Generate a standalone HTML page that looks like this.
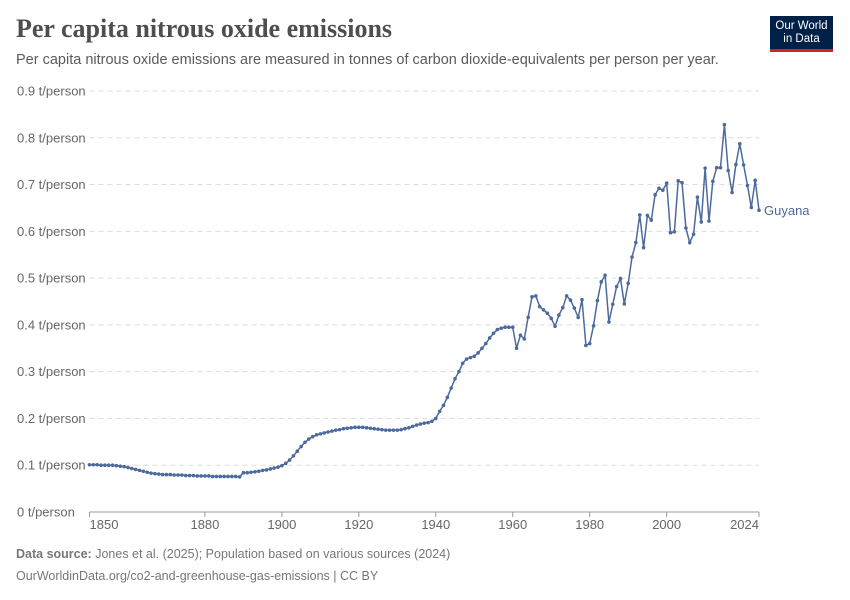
<!DOCTYPE html>
<html><head><meta charset="utf-8">
<style>
body{margin:0;background:#fff;font-family:"Liberation Sans",sans-serif;}
#wrap{position:relative;width:850px;height:600px;overflow:hidden;}
.title{position:absolute;left:16px;top:14px;font-family:"Liberation Serif",serif;font-weight:bold;font-size:26px;color:#4e4e4e;}
.sub{position:absolute;left:16px;top:52px;font-size:14.5px;color:#5b5b5b;}
.logo{position:absolute;left:770px;top:16px;width:63px;height:36px;background:#002147;color:#fff;font-size:11.5px;line-height:13px;text-align:center;padding-top:4px;box-sizing:border-box;border-bottom:3px solid #ce261e;}
.foot{position:absolute;left:16px;font-size:12.5px;color:#777;}
</style></head><body>
<div id="wrap">
<div class="title">Per capita nitrous oxide emissions</div>
<div class="sub">Per capita nitrous oxide emissions are measured in tonnes of carbon dioxide-equivalents per person per year.</div>
<div class="logo">Our World<br>in Data</div>
<svg id="chart" width="850" height="600" style="position:absolute;left:0;top:0"></svg>
<div class="foot" style="top:547px"><b>Data source:</b> Jones et al. (2025); Population based on various sources (2024)</div>
<div class="foot" style="top:569px">OurWorldinData.org/co2-and-greenhouse-gas-emissions | CC BY</div>
</div>
<script>
const years = [];
for (let y = 1850; y <= 2024; y++) years.push(y);
const values = [
0.101,0.101,0.101,0.100,0.100,0.100,0.100,0.099,0.098,0.097,
0.095,0.093,0.091,0.089,0.087,0.085,0.083,0.082,0.081,0.080,
0.080,0.080,0.079,0.079,0.079,0.078,0.078,0.078,0.077,0.077,
0.077,0.077,0.076,0.076,0.076,0.076,0.076,0.076,0.076,0.075,
0.084,0.084,0.085,0.086,0.087,0.089,0.090,0.092,0.094,0.096,
0.099,0.104,0.111,0.120,0.130,0.140,0.149,0.156,0.161,0.165,
0.167,0.169,0.171,0.173,0.175,0.176,0.178,0.179,0.180,0.181,
0.181,0.181,0.180,0.179,0.178,0.177,0.176,0.175,0.175,0.175,
0.175,0.176,0.178,0.180,0.183,0.186,0.188,0.190,0.191,0.194,
0.200,0.215,0.228,0.245,0.265,0.285,0.300,0.318,0.327,0.330,
0.333,0.340,0.350,0.360,0.372,0.382,0.390,0.393,0.395,0.395,
0.395,0.350,0.378,0.370,0.416,0.460,0.462,0.439,0.432,0.425,0.414,
0.397,0.421,0.437,0.462,0.453,0.436,0.416,0.454,0.356,0.360,
0.398,0.452,0.492,0.506,0.406,0.444,0.482,0.499,0.445,0.489,
0.545,0.576,0.635,0.565,0.634,0.624,0.678,0.692,0.688,0.703,
0.597,0.599,0.708,0.704,0.607,0.576,0.594,0.673,0.620,0.735,
0.622,0.707,0.736,0.736,0.828,0.730,0.683,0.743,0.787,0.742,
0.698,0.651,0.709,0.645
];
const yTicks = [0,0.1,0.2,0.3,0.4,0.5,0.6,0.7,0.8,0.9];
const yTickLabels = ["0 t/person","0.1 t/person","0.2 t/person","0.3 t/person","0.4 t/person","0.5 t/person","0.6 t/person","0.7 t/person","0.8 t/person","0.9 t/person"];
const xTicks = [1850,1880,1900,1920,1940,1960,1980,2000,2024];

const NS="http://www.w3.org/2000/svg";
const svg=document.getElementById('chart');
const X0=89.5,X1=759,Y0=512,Y1=91;
const xs=y=>X0+(y-1850)/(2024-1850)*(X1-X0);
const ys=v=>Y0-v/0.9*(Y0-Y1);
function mk(t,a){const e=document.createElementNS(NS,t);for(const k in a)e.setAttribute(k,a[k]);svg.appendChild(e);return e;}
yTicks.forEach((t,i)=>{
  const g=mk('line',{x1:X0,x2:X1,y1:ys(t),y2:ys(t),stroke:t===0?'#999':'#ddd','stroke-dasharray':t===0?'':'5,4','stroke-width':1});
  
  
  const l=mk('text',{x:17,y:ys(t)+4.5,'font-size':13,fill:'#666','font-family':'Liberation Sans, sans-serif'});
  l.textContent=yTickLabels[i];
  
  
});
xTicks.forEach((t,i)=>{
  const tk=mk('line',{x1:xs(t),x2:xs(t),y1:Y0,y2:Y0+5,stroke:'#999'});
  
  
  const anchor=i===0?'start':(i===xTicks.length-1?'end':'middle');
  const l=mk('text',{x:xs(t),y:Y0+17,'font-size':13,fill:'#666','text-anchor':anchor,'font-family':'Liberation Sans, sans-serif'});
  l.textContent=t;
  
  
});
const pts=years.map((y,i)=>xs(y).toFixed(1)+','+ys(values[i]).toFixed(1)).join(' ');
const pl=mk('polyline',{points:pts,fill:'none',stroke:'#4c6a9c','stroke-width':1.5});


years.forEach((y,i)=>{
  const c=mk('circle',{cx:xs(y),cy:ys(values[i]),r:1.8,fill:'#4c6a9c'});
  
  
});
const lab=mk('text',{x:764,y:ys(values[values.length-1])+4.5,'font-size':13,fill:'#4c6a9c','font-family':'Liberation Sans, sans-serif'});
lab.textContent='Guyana';


</script>
</body></html>
